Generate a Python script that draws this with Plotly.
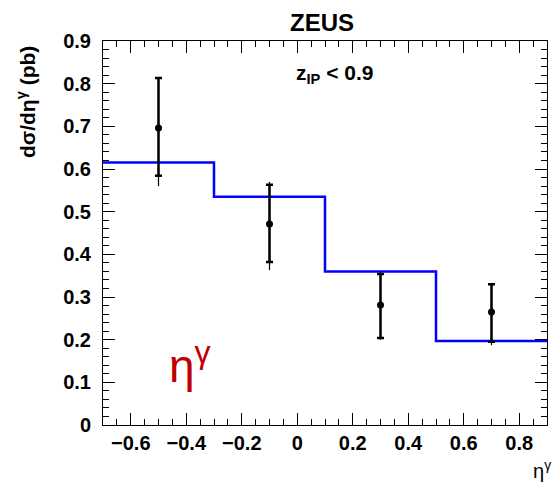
import plotly.graph_objects as go

# Data
eta_centers = [-0.5, -0.1, 0.3, 0.7]
xsec = [0.696, 0.471, 0.281, 0.265]
stat_up = [0.813, 0.563, 0.354, 0.330]
stat_dn = [0.584, 0.382, 0.204, 0.195]
tot_up = [0.813, 0.570, 0.358, 0.330]
tot_dn = [0.560, 0.363, 0.200, 0.187]

bin_edges = [-0.7, -0.3, 0.1, 0.5, 0.9]
mc_values = [0.615, 0.535, 0.360, 0.197]

FONT = "Liberation Sans, Arial, sans-serif"

fig = go.Figure()

# MC histogram (step)
fig.add_trace(go.Scatter(
    x=bin_edges, y=mc_values + [mc_values[-1]],
    mode="lines", line=dict(color="#0000ff", width=2.5, shape="hv"),
    showlegend=False, hoverinfo="skip"))

# total errors
fig.add_trace(go.Scatter(
    x=eta_centers, y=xsec, mode="markers",
    marker=dict(color="black", size=1),
    error_y=dict(type="data", symmetric=False,
                 array=[u - v for u, v in zip(tot_up, xsec)],
                 arrayminus=[v - d for v, d in zip(xsec, tot_dn)],
                 color="black", thickness=1.2, width=0),
    showlegend=False))

# stat errors + points
fig.add_trace(go.Scatter(
    x=eta_centers, y=xsec, mode="markers",
    marker=dict(color="black", size=7),
    error_y=dict(type="data", symmetric=False,
                 array=[u - v for u, v in zip(stat_up, xsec)],
                 arrayminus=[v - d for v, d in zip(xsec, stat_dn)],
                 color="black", thickness=2.5, width=3.5),
    showlegend=False))

axis_common = dict(
    showline=True, linecolor="black", linewidth=1, mirror="allticks",
    ticks="inside", tickcolor="black", showgrid=False, zeroline=False,
    tickfont=dict(family=FONT, size=20, color="black", weight="bold"),
)

fig.update_xaxes(range=[-0.7, 0.9], dtick=0.2, tick0=0, ticklen=12,
                 minor=dict(dtick=0.05, ticklen=6, ticks="inside", tickcolor="black"),
                 **axis_common)
fig.update_yaxes(range=[0, 0.9], dtick=0.1, tick0=0, ticklen=12,
                 ticklabelstandoff=7,
                 minor=dict(dtick=0.02, ticklen=6, ticks="inside", tickcolor="black"),
                 **axis_common)

fig.update_layout(
    width=554, height=485,
    margin=dict(l=103, r=7, t=41, b=60),
    plot_bgcolor="white", paper_bgcolor="white",
    annotations=[
        dict(text="<b>ZEUS</b>", xref="paper", yref="paper", x=0.493, y=1.0,
             xanchor="center", yanchor="middle", yshift=19, showarrow=False,
             font=dict(family=FONT, size=24, color="black")),
        dict(text="<b>z<sub>IP</sub> &lt; 0.9</b>", xref="x", yref="y", x=0.137, y=0.823,
             xanchor="center", yanchor="middle",
             showarrow=False, font=dict(family=FONT, size=21, color="black")),
        dict(text="η<sup>γ</sup>", xref="x", yref="y", x=-0.388, y=0.146,
             xanchor="center", yanchor="middle",
             showarrow=False, font=dict(family=FONT, size=46, color="#c00000")),
        dict(text="<b>dσ/dη<sup>γ</sup> (pb)</b>", xref="paper", yref="paper",
             x=0, y=1, xanchor="center", yanchor="top", xshift=-77, yshift=-3,
             textangle=-90, showarrow=False,
             font=dict(family=FONT, size=21, color="black")),
        dict(text="η<sup>γ</sup>", xref="paper", yref="paper", x=1, y=0,
             xanchor="right", yanchor="top", xshift=6, yshift=-30, showarrow=False,
             font=dict(family=FONT, size=20, color="black")),
    ],
)

fig.write_html("out.html")
